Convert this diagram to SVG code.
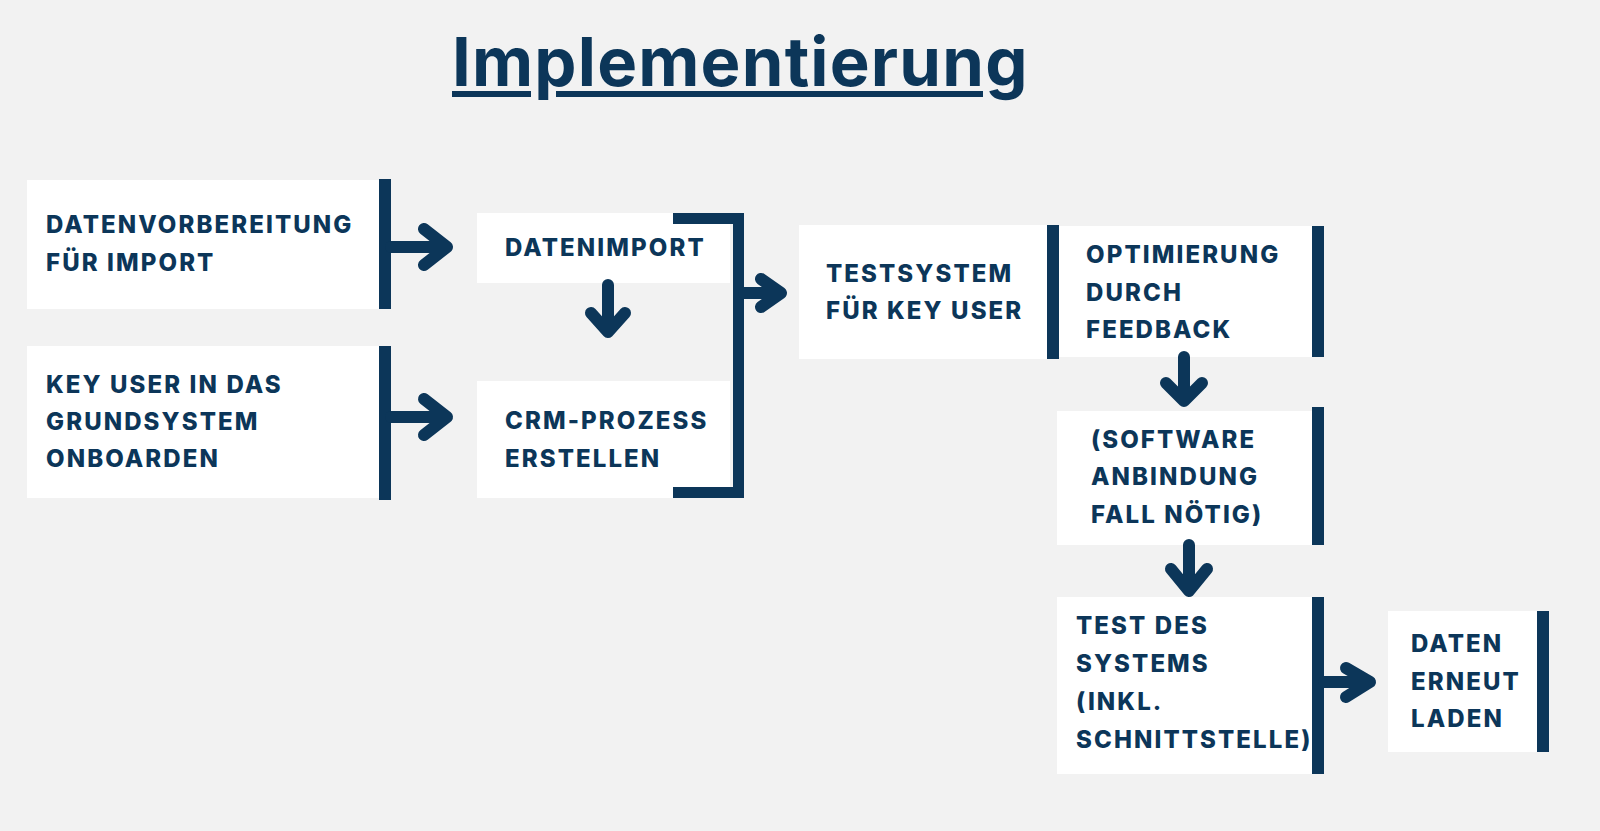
<svg xmlns="http://www.w3.org/2000/svg" width="1600" height="831" viewBox="0 0 1600 831">
<style>
.bg{fill:#f2f2f2}
.box{fill:#ffffff}
.bar{fill:#0c3659}
.t{font-family:Inter,"Noto Sans","Liberation Sans",sans-serif;font-weight:800;font-size:24px;letter-spacing:2.1px;fill:#0c3659}
.title{font-family:Inter,"Noto Sans","Liberation Sans",sans-serif;font-weight:700;font-size:67px;letter-spacing:1.2px;fill:#0c3659}
.arr{fill:none;stroke:#0c3659;stroke-width:12;stroke-linecap:round;stroke-linejoin:round}
.brk{fill:none;stroke:#0c3659;stroke-width:11;stroke-linejoin:miter}
</style>
<rect class="bg" x="0" y="0" width="1600" height="831"/>
<g id="title">
<text class="title" x="452" y="86">Implementierung</text>
<rect class="bar" x="452" y="91" width="79" height="6"/>
<rect class="bar" x="556" y="91" width="427" height="6"/>
</g>
<g id="n1">
<rect class="box" x="27" y="180" width="352" height="129"/>
<rect class="bar" x="379" y="179" width="12" height="130"/>
<text class="t" x="46" y="233">DATENVORBEREITUNG</text>
<text class="t" x="46" y="271">FÜR IMPORT</text>
</g>
<g id="n2">
<rect class="box" x="27" y="346" width="352" height="152"/>
<rect class="bar" x="379" y="346" width="12" height="154"/>
<text class="t" x="46" y="393">KEY USER IN DAS</text>
<text class="t" x="46" y="430">GRUNDSYSTEM</text>
<text class="t" x="46" y="467">ONBOARDEN</text>
</g>
<g id="n3">
<rect class="box" x="477" y="213" width="253" height="70"/>
<text class="t" x="505" y="256">DATENIMPORT</text>
</g>
<g id="n4">
<rect class="box" x="477" y="381" width="253" height="117"/>
<text class="t" x="505" y="429">CRM-PROZESS</text>
<text class="t" x="505" y="467">ERSTELLEN</text>
</g>
<g id="n5">
<rect class="box" x="799" y="225" width="248" height="134"/>
<rect class="bar" x="1047" y="225" width="12" height="134"/>
<text class="t" x="826" y="282">TESTSYSTEM</text>
<text class="t" x="826" y="319">FÜR KEY USER</text>
</g>
<g id="n6">
<rect class="box" x="1059" y="226" width="253" height="131"/>
<rect class="bar" x="1312" y="226" width="12" height="131"/>
<text class="t" x="1086" y="263">OPTIMIERUNG</text>
<text class="t" x="1086" y="301">DURCH</text>
<text class="t" x="1086" y="338">FEEDBACK</text>
</g>
<g id="n7">
<rect class="box" x="1057" y="411" width="255" height="134"/>
<rect class="bar" x="1312" y="407" width="12" height="138"/>
<text class="t" x="1091" y="448">(SOFTWARE</text>
<text class="t" x="1091" y="485">ANBINDUNG</text>
<text class="t" x="1091" y="523">FALL NÖTIG)</text>
</g>
<g id="n8">
<rect class="box" x="1057" y="597" width="255" height="177"/>
<rect class="bar" x="1312" y="597" width="12" height="177"/>
<text class="t" x="1076" y="634">TEST DES</text>
<text class="t" x="1076" y="672">SYSTEMS</text>
<text class="t" x="1076" y="710">(INKL.</text>
<text class="t" x="1076" y="748">SCHNITTSTELLE)</text>
</g>
<g id="n9">
<rect class="box" x="1388" y="611" width="149" height="141"/>
<rect class="bar" x="1537" y="611" width="12" height="141"/>
<text class="t" x="1411" y="652">DATEN</text>
<text class="t" x="1411" y="690">ERNEUT</text>
<text class="t" x="1411" y="727">LADEN</text>
</g>
<g id="connectors">
<path class="brk" d="M673,218.5 H738.5 V492.5 H673"/>
<path class="arr" d="M391,247 H445 M424,229 L447,247 L424,265"/>
<path class="arr" d="M391,417 H445 M424,399 L447,417 L424,435"/>
<path class="arr" d="M608,285 V330 M591,313 L608,332 L625,313"/>
<path class="arr" d="M744,293 H779 M761,279 L781,293 L761,307"/>
<path class="arr" d="M1184,357 V399 M1166,383 L1184,401 L1202,383"/>
<path class="arr" d="M1189,545 V589 M1171,569 L1189,591 L1207,569"/>
<path class="arr" d="M1324,682 H1368 M1346,668 L1370,682 L1346,697"/>
</g>
</svg>
